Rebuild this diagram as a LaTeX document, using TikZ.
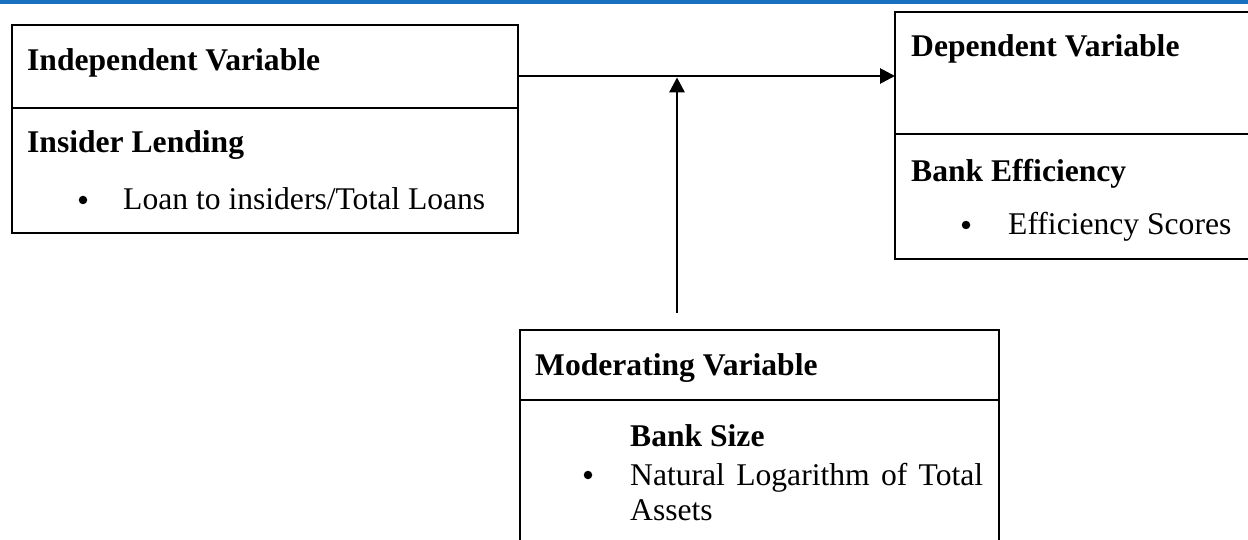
\documentclass[tikz,border=0pt]{standalone}
\usepackage{fontspec}
\setmainfont{Liberation Serif}
\usetikzlibrary{arrows.meta}
\definecolor{topblue}{RGB}{23,113,192}
\tikzset{
  boxframe/.style={draw=black, line width=2.2pt, fill=none},
  divider/.style={draw=black, line width=2.2pt},
  arrowline/.style={draw=black, line width=2.8pt, -{Triangle[length=15pt,width=15pt]}},
  lbl/.style={anchor=base west, inner sep=0pt, font=\fontsize{31.6}{38}\selectfont},
  lblb/.style={lbl, font=\fontsize{31.6}{38}\selectfont\bfseries},
  dot/.style={circle, fill=black, inner sep=0pt, minimum size=8.5pt},
}
\begin{document}
\begin{tikzpicture}[x=1pt,y=-1pt]
\useasboundingbox (0,0) rectangle (1248,540);
\clip (0,0) rectangle (1248,540);
\fill[topblue] (0,0) rectangle (1248,4);

% boxes
\draw[boxframe] (12,25) rectangle (518,233);
\draw[divider] (12,108) -- (518,108);
\draw[boxframe] (895,12) rectangle (1262,259);
\draw[divider] (895,134) -- (1262,134);
\draw[boxframe] (520,330) rectangle (999,560);
\draw[divider] (520,400) -- (999,400);

% named anchors on box edges
\coordinate (indepE) at (518,76);
\coordinate (depW) at (895,76);
\coordinate (modTop) at (677,313);
\coordinate (hline) at (677,76);

% texts
\node[lblb] (indep) at (27,70.5) {Independent Variable};
\node[lblb] (insider) at (27,153) {Insider Lending};
\node[dot] (b1) at (83,200) {};
\node[lbl] (loan) at (123,210) {Loan to insiders/Total Loans};

\node[lblb] (dep) at (911,57) {Dependent Variable};
\node[lblb] (bankeff) at (911,182) {Bank Efficiency};
\node[dot] (b2) at (966,225) {};
\node[lbl] (effs) at (1008,235) {Efficiency Scores};

\node[lblb] (mod) at (535,375) {Moderating Variable};
\node[lblb] (banksize) at (630,446) {Bank Size};
\node[dot] (b3) at (588,475) {};
\node[lbl] (nat) at (630,485) {\makebox[353pt][s]{Natural Logarithm of Total}};
\node[lbl] (assets) at (630,520) {Assets};

% connectors
\draw[arrowline] (indepE) -- (depW);
\draw[arrowline, shorten >=1.4pt] (modTop) -- (hline);
\end{tikzpicture}
\end{document}
